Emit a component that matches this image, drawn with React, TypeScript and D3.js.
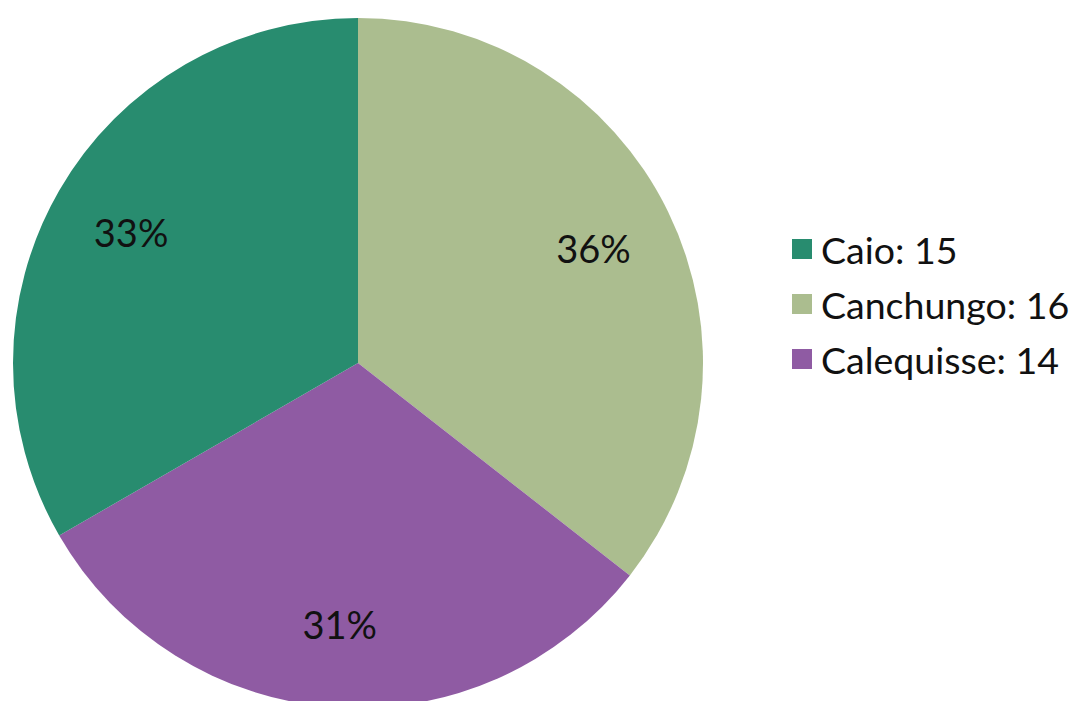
import React from "react";
import * as d3 from "d3";

const categories = ["Caio", "Canchungo", "Calequisse"];
const values = [15, 16, 14];
const colors = ["#288c6f", "#abbd8f", "#8f5ba3"];
const sliceOrder = ["Canchungo", "Calequisse", "Caio"];

const W = 1073;
const H = 701;

export default function App() {
  const cx = 358;
  const cy = 363;
  const R = 345;
  const total = d3.sum(values);
  const data = sliceOrder.map((name) => {
    const i = categories.indexOf(name);
    return { name, value: values[i], color: colors[i] };
  });
  const pie = d3.pie<any>().sort(null).value((d) => d.value);
  const arcs = pie(data);
  const arc = d3.arc<any>().innerRadius(0).outerRadius(R);
  const labelArc = d3.arc<any>().innerRadius(262).outerRadius(262);
  const font = "Lato, 'Open Sans', sans-serif";

  return (
    <svg width={W} height={H} style={{ position: "absolute", left: 0, top: 0, background: "#fff" }}>
      <g transform={`translate(${cx},${cy})`}>
        {arcs.map((a, i) => (
          <path key={i} d={arc(a) as string} fill={a.data.color} />
        ))}
        {arcs.map((a, i) => {
          const [x, y] = labelArc.centroid(a);
          return (
            <text
              key={"l" + i}
              x={x}
              y={y}
              textAnchor="middle"
              dominantBaseline="central"
              fontFamily={font}
              fontSize={38}
              fill="#111"
            >
              {Math.round((a.data.value / total) * 100) + "%"}
            </text>
          );
        })}
      </g>
      <g transform="translate(792,249)">
        {categories.map((c, i) => (
          <g key={c} transform={`translate(0,${i * 55})`}>
            <rect x={0} y={-10} width={20} height={20} fill={colors[i]} />
            <text x={29} y={0} dominantBaseline="central" fontFamily={font} fontSize={37.5} fill="#111">
              {`${c}: ${values[i]}`}
            </text>
          </g>
        ))}
      </g>
    </svg>
  );
}
